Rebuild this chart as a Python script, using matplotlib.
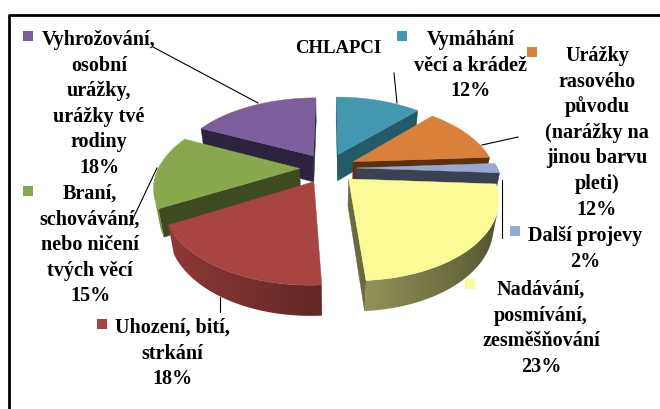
import numpy as np
import matplotlib
matplotlib.use("Agg")
import matplotlib.pyplot as plt
from matplotlib.patches import Polygon, Rectangle

plt.rcParams['font.family'] = ['Liberation Serif', 'DejaVu Serif']

# data, in Excel order (clockwise from 12 o'clock)
names = ["Vymáhání\nvěcí a krádež",
         "Urážky\nrasového\npůvodu\n(narážky na\njinou barvu\npleti)",
         "Další projevy",
         "Nadávání,\nposmívání,\nzesměšňování",
         "Uhození, bití,\nstrkání",
         "Braní,\nschovávání,\nnebo ničení\ntvých věcí",
         "Vyhrožování,\nosobní\nurážky,\nurážky tvé\nrodiny"]
shares = [12, 12, 2, 23, 18, 15, 18]
title = "CHLAPCI"

top_col = ["#4398b0", "#d9803a", "#95a9d2", "#fafa96", "#a84442", "#89a84e", "#7c5f9a"]
side_col = ["#245b69", "#5c3112", "#3a4152", "#6a6a40", "#5e2624", "#3d4a22", "#2d233e"]

# label layout: (centre x, first baseline y, key square centre)
lab_pos = [(471, 45, (402, 36)), (597, 61, (532, 52)), (585, 241, (515, 231)),
           (541, 295, (470, 284)), (172, 333, (102, 324)), (90, 199, (28, 191)),
           (99, 45, (28, 36))]
leaders = [[(394, 73), (397, 103)], [(482, 145), (518, 137)], [(502, 180), (502, 238)],
           [], [(220, 297), (220, 312)], [(157, 168), (130, 225)], [(153, 47), (258, 103)]]

# 3d projection
CX, CY = 328, 168
F = 565.0
D = 4.0
PHI = np.radians(32)
H = 0.23
EXPL = 0.2
cam = np.array([0, -D * np.cos(PHI), D * np.sin(PHI)])


def proj(X, Y, Z):
    depth = D + Y * np.cos(PHI) - Z * np.sin(PHI)
    up = Y * np.sin(PHI) + Z * np.cos(PHI)
    return CX + F * X / depth, CY - F * up / depth


def visible(p, n):
    return np.dot(cam - np.array(p), np.array(n)) > 0


def shade(c, f):
    r, g, b = matplotlib.colors.to_rgb(c)
    return np.clip(np.array([r, g, b]) * f, 0, 1)


fig = plt.figure(figsize=(6.6, 4.09), dpi=100)
ax = fig.add_axes([0, 0, 1, 1])


def poly(pts, color, z):
    xy = np.array([proj(*p) for p in pts])
    p = Polygon(xy, closed=True, facecolor=color, edgecolor=color, linewidth=0.3, zorder=z)
    ax.add_patch(p)
    return xy


cum = np.cumsum([0] + shares) / sum(shares) * 360
slices = []
for i in range(len(shares)):
    a2 = np.radians(90 - cum[i])
    a1 = np.radians(90 - cum[i + 1])
    m = (a1 + a2) / 2
    slices.append((np.sin(m), i, a1, a2, m))

z = 1
for _, i, a1, a2, m in sorted(slices, reverse=True):
    ox, oy = EXPL * np.cos(m), EXPL * np.sin(m)
    ts = np.linspace(a1, a2, max(int(np.degrees(a2 - a1)) * 2, 2) + 1)
    # radial faces
    for a, n in [(a1, (np.sin(a1), -np.cos(a1), 0)), (a2, (-np.sin(a2), np.cos(a2), 0))]:
        p_in = (ox, oy, 0)
        p_out = (ox + np.cos(a), oy + np.sin(a), 0)
        if visible(((p_in[0] + p_out[0]) / 2, (p_in[1] + p_out[1]) / 2, -H / 2), n):
            poly([p_in, p_out, (p_out[0], p_out[1], -H), (ox, oy, -H)], side_col[i], z)
    # outer wall: one polygon filled with a gradient
    vis = [t for t in ts if visible((ox + np.cos(t), oy + np.sin(t), -H / 2), (np.cos(t), np.sin(t), 0))]
    if len(vis) > 1:
        vis = np.array(vis)
        top = [(ox + np.cos(t), oy + np.sin(t), 0) for t in vis]
        bot = [(ox + np.cos(t), oy + np.sin(t), -H) for t in vis[::-1]]
        xy = np.array([proj(*p) for p in top + bot])
        clip = Polygon(xy, closed=True, facecolor="none", edgecolor="none")
        ax.add_patch(clip)
        xs_top = xy[:len(vis), 0]
        order = np.argsort(xs_top)
        x0, x1 = xy[:, 0].min() - 1, xy[:, 0].max() + 1
        y0, y1 = xy[:, 1].min() - 1, xy[:, 1].max() + 1
        gx = np.linspace(x0, x1, 200)
        tt = np.interp(gx, xs_top[order], vis[order])
        cols = np.array([shade(top_col[i], 0.6 - 0.3 * np.cos(t)) for t in tt])
        img = np.repeat(cols[None, :, :], 2, axis=0)
        im = ax.imshow(img, extent=(x0, x1, y1, y0), aspect="auto", interpolation="bilinear", zorder=z)
        im.set_clip_path(clip)
    # top
    poly([(ox, oy, 0)] + [(ox + np.cos(t), oy + np.sin(t), 0) for t in ts], top_col[i], z + 0.5)
    z += 1

ax.set_xlim(0, 660)
ax.set_ylim(409, 0)
ax.axis("off")

# labels
for i, (x, y0, (kx, ky)) in enumerate(lab_pos):
    lines = names[i].split("\n") + ["%d%%" % shares[i]]
    for k, s in enumerate(lines):
        ax.text(x, y0 + k * 25.6, s, ha="center", va="baseline", fontsize=14.5,
                fontweight="bold", color="black", zorder=20)
    ax.add_patch(Rectangle((kx - 5, ky - 5), 10, 10, facecolor=top_col[i], edgecolor="none", zorder=20))
    if leaders[i]:
        xs, ys = zip(*leaders[i])
        ax.plot(xs, ys, color="black", lw=0.8, zorder=21)

ax.text(338, 53, title, ha="center", va="baseline", fontsize=13.5, fontweight="bold", zorder=20)

# chart frame (cut off at right/bottom)
ax.plot([9, 9, 670], [420, 15, 15], color="black", lw=2, zorder=30, clip_on=False)

fig.savefig("out.png", dpi=100)
